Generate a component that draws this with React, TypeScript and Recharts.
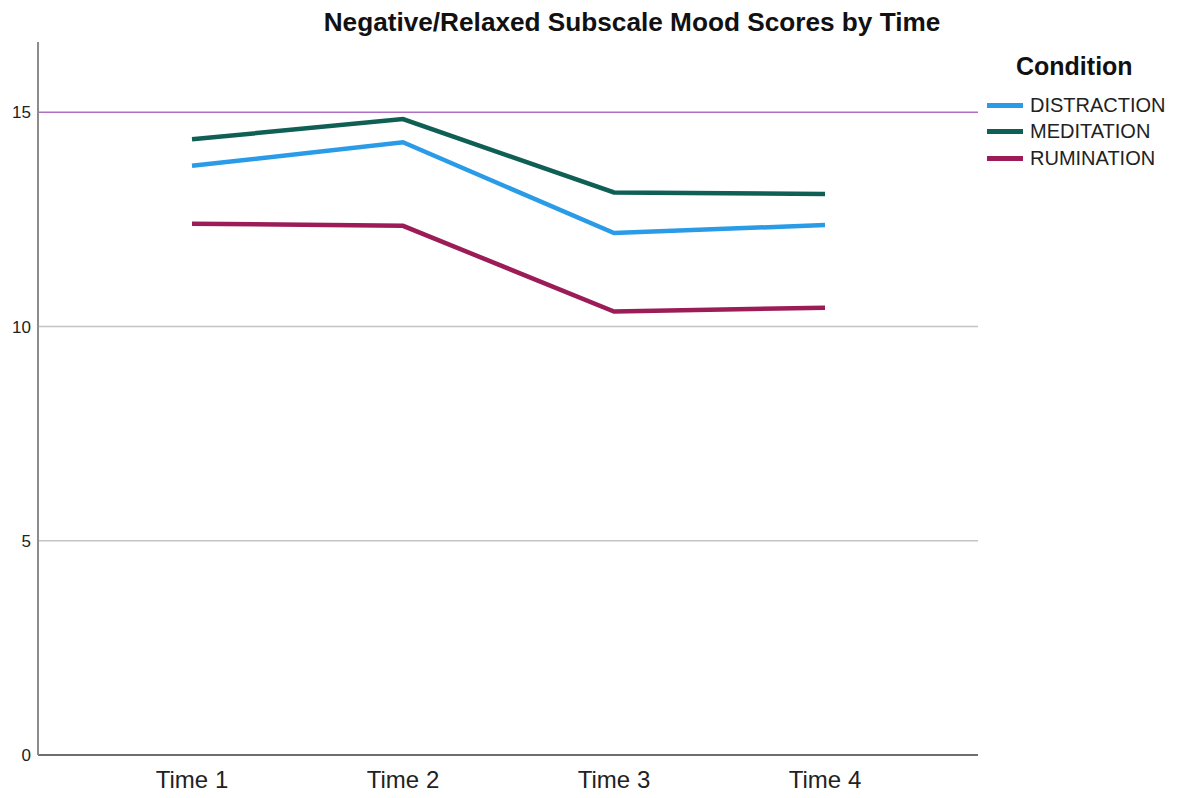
import { CartesianGrid, Line, LineChart, ReferenceLine, XAxis, YAxis } from "recharts";

const times = ["Time 1", "Time 2", "Time 3", "Time 4"];
const distraction = [13.75, 14.3, 12.18, 12.37];
const meditation = [14.37, 14.84, 13.13, 13.09];
const rumination = [12.4, 12.35, 10.35, 10.44];
const yTicks = [0, 5, 10, 15];
const gridValues = [5, 10];
const referenceValue = 15;

const series = [
  { key: "DISTRACTION", color: "#2a9be6", values: distraction },
  { key: "MEDITATION", color: "#0f5f55", values: meditation },
  { key: "RUMINATION", color: "#9b1c56", values: rumination }
];

const data = times.map((time, i) => {
  const row: Record<string, string | number> = { time };
  series.forEach((s) => {
    row[s.key] = s.values[i];
  });
  return row;
});

const font = "'Liberation Sans', Arial, sans-serif";

export default function App() {
  return (
    <div style={{ position: "absolute", left: 0, top: 0, width: 1177, height: 798, background: "#fff", fontFamily: font }}>
      <div
        style={{
          position: "absolute",
          left: 282,
          width: 700,
          top: 7,
          textAlign: "center",
          fontWeight: "bold",
          fontSize: 26.2,
          color: "#111"
        }}
      >
        Negative/Relaxed Subscale Mood Scores by Time
      </div>

      <LineChart width={1177} height={798} data={data} margin={{ top: 42, right: 199, bottom: 0, left: 0 }}>
        <CartesianGrid vertical={false} horizontalValues={gridValues} stroke="#c4c4c4" strokeWidth={1.3} />
        <XAxis
          dataKey="time"
          padding={{ left: 154, right: 153 }}
          height={43}
          tickLine={false}
          axisLine={{ stroke: "#6e6e6e", strokeWidth: 2 }}
          tick={{ fill: "#222", fontSize: 24, fontFamily: font }}
          tickMargin={10}
        />
        <YAxis
          domain={[0, 16.64]}
          ticks={yTicks}
          width={38}
          tickLine={false}
          axisLine={{ stroke: "#8c8c8c", strokeWidth: 2 }}
          tick={{ fill: "#222", fontSize: 17, fontFamily: font }}
          tickMargin={1}
        />
        <ReferenceLine y={referenceValue} stroke="#b070c6" strokeWidth={1.6} />
        {series.map((s) => (
          <Line
            key={s.key}
            type="linear"
            dataKey={s.key}
            stroke={s.color}
            strokeWidth={4.5}
            dot={false}
            activeDot={false}
            isAnimationActive={false}
          />
        ))}
      </LineChart>

      <div
        style={{
          position: "absolute",
          left: 1016,
          top: 52,
          fontWeight: "bold",
          fontSize: 25,
          color: "#111"
        }}
      >
        Condition
      </div>
      {series.map((s, i) => (
        <div
          key={s.key}
          style={{
            position: "absolute",
            left: 987,
            top: 93 + i * 26.5,
            display: "flex",
            alignItems: "center",
            height: 24,
            fontSize: 20,
            color: "#222"
          }}
        >
          <div style={{ width: 36, height: 5, background: s.color, marginRight: 7 }} />
          {s.key}
        </div>
      ))}
    </div>
  );
}
